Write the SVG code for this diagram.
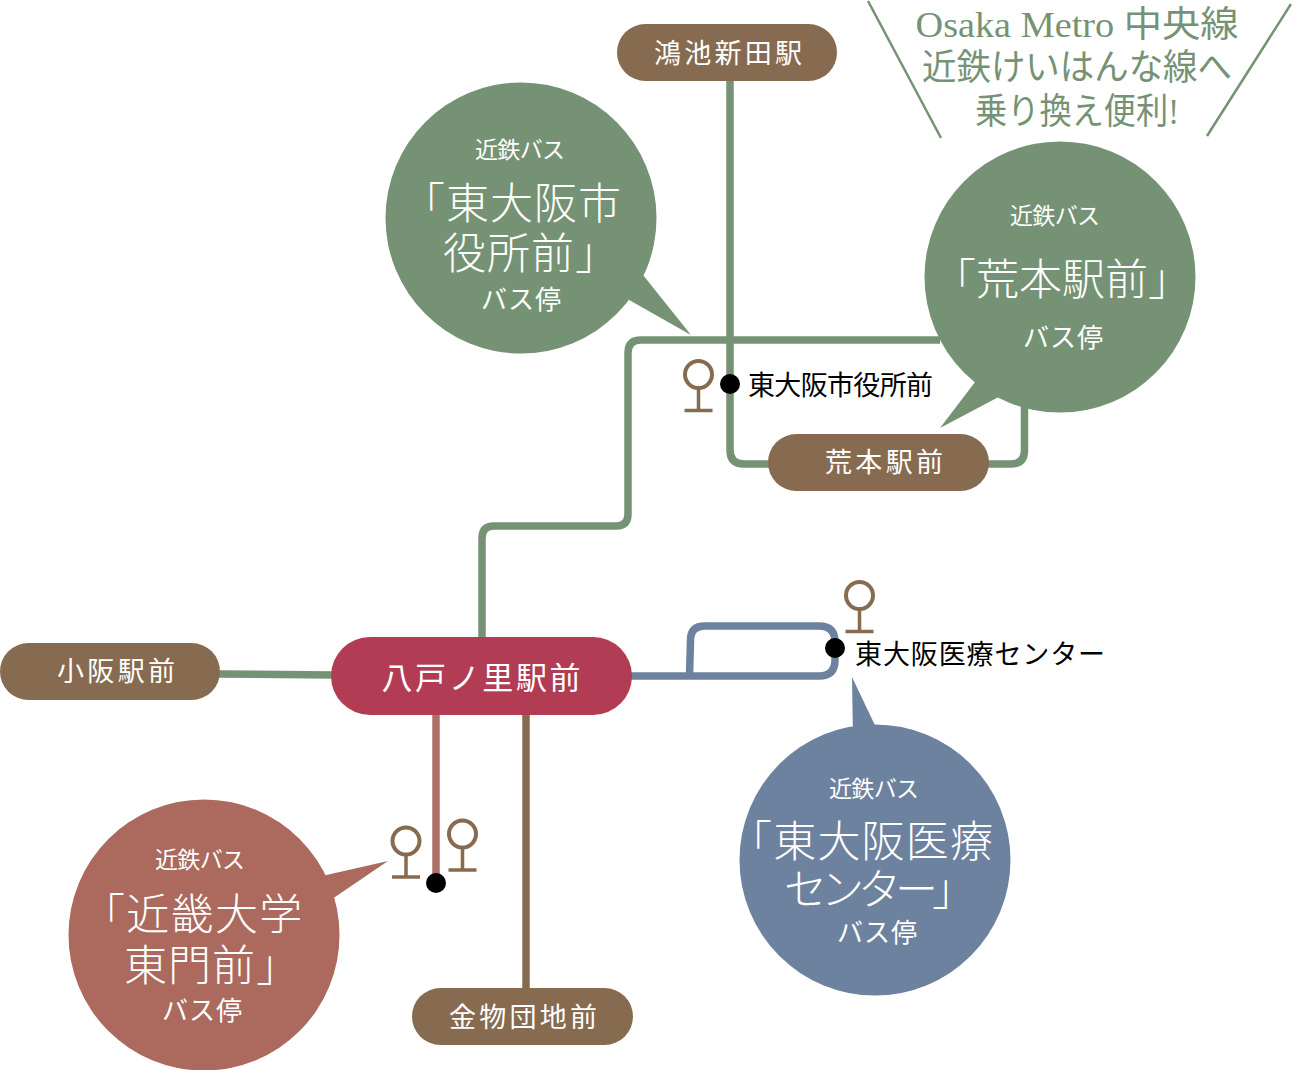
<svg xmlns="http://www.w3.org/2000/svg" width="1292" height="1070" viewBox="0 0 1292 1070">
<defs>
<style>
text{font-family:"Liberation Serif","Noto Sans CJK JP",serif;text-anchor:middle}
.w{fill:#fff}
.k{fill:#000;font-size:27px;text-anchor:start}
.g{fill:#769274;font-size:36px}
.s{font-size:23px}
.b{font-size:26px}
.t{font-size:43px;text-anchor:start;font-weight:300}
.n{font-size:27px}
.ln{fill:none;stroke-width:7.500;stroke-linecap:butt;stroke-linejoin:round}
.gr{stroke:#769274}.bl{stroke:#6c829e}.br{stroke:#866b50}
.p{fill:#866b50}
.pin circle{fill:none;stroke:#866b50;stroke-width:4}
.pin path{fill:none;stroke:#866b50;stroke-width:3.5}
</style>
<g id="pinShape" class="pin"><circle cx="0" cy="-36" r="13.500"/><path d="M0-22V0M-14 0H14"/></g>
</defs>
<g id="connectors">
<path class="ln gr" d="M730 80V450Q730 464 744 464H770"/>
<path class="ln gr" d="M986 464H1011Q1024.500 464 1024.500 450V400"/>
<path class="ln gr" d="M482 640V538Q482 526 494 526H616Q628 526 628 514V353Q628 340 641 340H940"/>
<path class="ln gr" d="M218 674L335 675"/>
<path class="ln bl" d="M628 676H819Q835 676 835 660V642Q835 626 819 626H705Q690.500 626 690.500 640L689.500 676"/>
<path class="ln" style="stroke:#ad6f66" d="M436 712V880"/>
<path class="ln br" d="M526 712V990"/>
</g>
<g id="note-osaka-metro">
<path d="M868 1L941 138M1291 4L1207 136" fill="none" stroke="#769274" stroke-width="2.500"/>
<text class="g" x="1077" y="37" textLength="323" lengthAdjust="spacingAndGlyphs">Osaka Metro 中央線</text>
<text class="g" x="1077" y="80" textLength="310" lengthAdjust="spacingAndGlyphs">近鉄けいはんな線へ</text>
<text class="g" x="1077" y="124" textLength="204" lengthAdjust="spacingAndGlyphs">乗り換え便利!</text>
</g>
<g id="stop-konoike"><rect x="617" y="24" width="220" height="57" rx="28.500" class="p"/><text class="w n" x="728" y="63" textLength="148">鴻池新田駅</text></g>
<g id="stop-aramoto"><rect x="768" y="434" width="221" height="57" rx="28.500" class="p"/><text class="w n" x="884" y="472" textLength="118">荒本駅前</text></g>
<g id="stop-kosaka"><rect x="0" y="643" width="220" height="57" rx="28.500" class="p"/><text class="w n" x="116" y="681" textLength="118">小阪駅前</text></g>
<g id="stop-kanamono"><rect x="412" y="988" width="221" height="57" rx="28.500" class="p"/><text class="w n" x="523" y="1027" textLength="148">金物団地前</text></g>
<g id="stop-yaenosato"><rect x="331" y="637" width="301" height="78" rx="39" fill="#b13c53"/><text class="w" style="font-size:31px" x="481" y="689" textLength="199">八戸ノ里駅前</text></g>
<g id="callout-shiyakusho">
<path d="M635 265L691 335L615 292Z" fill="#769274"/>
<circle cx="521" cy="218" r="135.500" fill="#769274"/>
<text class="w s" x="520" y="158" textLength="90">近鉄バス</text>
<text class="w t" x="402" y="219" letter-spacing="1">「東大阪市</text>
<text class="w t" x="443" y="269" letter-spacing="1">役所前」</text>
<text class="w b" x="521" y="309" textLength="80">バス停</text>
</g>
<g id="callout-aramoto">
<path d="M985 369L940 428L1010 391Z" fill="#769274"/>
<circle cx="1060" cy="277" r="135.500" fill="#769274"/>
<text class="w s" x="1055" y="224" textLength="90">近鉄バス</text>
<text class="w t" x="933" y="295">「荒本駅前」</text>
<text class="w b" x="1063" y="347" textLength="80">バス停</text>
</g>
<g id="callout-iryo">
<path d="M852 677L853 740L881 738Z" fill="#6c829e"/>
<circle cx="875" cy="860" r="135.500" fill="#6c829e"/>
<text class="w s" x="874" y="797" textLength="90">近鉄バス</text>
<text class="w t" x="729" y="857" letter-spacing="1.200">「東大阪医療</text>
<text class="w t" x="784" y="905" letter-spacing="-6">センター」</text>
<text class="w b" x="877" y="942" textLength="80">バス停</text>
</g>
<g id="callout-kindai">
<path d="M388 861L300 881L310 914Z" fill="#ab6a5d"/>
<circle cx="204" cy="935" r="135.500" fill="#ab6a5d"/>
<text class="w s" x="200" y="868" textLength="90">近鉄バス</text>
<text class="w t" x="82" y="930" letter-spacing="1.300">「近畿大学</text>
<text class="w t" x="124" y="981" letter-spacing="1">東門前」</text>
<text class="w b" x="202" y="1020" textLength="80">バス停</text>
</g>
<g id="station-shiyakusho">
<use href="#pinShape" x="698.500" y="410.500"/>
<circle cx="730" cy="384" r="10"/>
<text class="k" x="748" y="395" textLength="185">東大阪市役所前</text>
</g>
<g id="station-iryo">
<use href="#pinShape" x="859.500" y="631.500"/>
<circle cx="835" cy="648" r="10"/>
<text class="k" x="855" y="664" textLength="250">東大阪医療センター</text>
</g>
<g id="station-kindai">
<use href="#pinShape" x="406" y="877"/>
<use href="#pinShape" x="462.500" y="870"/>
<circle cx="436" cy="883" r="10"/>
</g>
</svg>
